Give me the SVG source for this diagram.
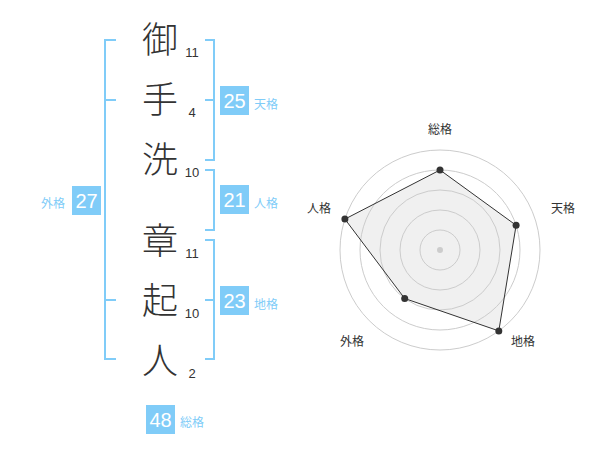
<svg xmlns="http://www.w3.org/2000/svg" width="600" height="470" viewBox="0 0 600 470">
<style>
.kanji{font-family:"Noto Sans CJK JP","Noto Sans CJK SC",sans-serif;font-size:36px;font-weight:300;fill:#333;text-anchor:middle}
.num{font-family:"Liberation Sans",Arial,sans-serif;font-size:13px;fill:#333;text-anchor:middle}
.br{fill:none;stroke:#80ccf8;stroke-width:2}
.box{fill:#80ccf8}
.bt{font-family:"Liberation Sans",Arial,sans-serif;font-size:20px;fill:#fff;text-anchor:middle}
.lab{font-family:"Noto Sans CJK JP","Noto Sans CJK SC",sans-serif;font-size:12px;fill:#80ccf8;text-anchor:middle}
.ring{fill:none;stroke:#ccc;stroke-width:1}
.rl{font-family:"Noto Sans CJK JP","Noto Sans CJK SC",sans-serif;font-size:12px;fill:#333;text-anchor:middle}
.pt{fill:#333}
</style>
<rect width="600" height="470" fill="#fff"/>
<g id="name">
<g id="c1"><text class="kanji" x="160" y="53">御</text><text class="num" x="192" y="57">11</text></g>
<g id="c2"><text class="kanji" x="160" y="113">手</text><text class="num" x="192" y="117">4</text></g>
<g id="c3"><text class="kanji" x="160" y="173">洗</text><text class="num" x="192" y="177">10</text></g>
<g id="c4"><text class="kanji" x="160" y="254">章</text><text class="num" x="192" y="258">11</text></g>
<g id="c5"><text class="kanji" x="160" y="314">起</text><text class="num" x="192" y="318">10</text></g>
<g id="c6"><text class="kanji" x="160" y="374">人</text><text class="num" x="192" y="378">2</text></g>
</g>
<g id="connectors">
<path class="br" d="M116,40 H105 V359 H116 M105,100 H116 M105,300 H116"/>
<path class="br" d="M205,40 H214 V160 H205 M214,100 H205"/>
<path class="br" d="M205,170 H214 V230 H205"/>
<path class="br" d="M205,240 H214 V359 H205 M214,300 H205"/>
</g>
<g id="tenkaku"><rect class="box" x="220" y="86" width="29" height="29"/><text class="bt" x="234.5" y="107.5">25</text><text class="lab" x="266" y="108.5">天格</text></g>
<g id="jinkaku"><rect class="box" x="220" y="185" width="29" height="29"/><text class="bt" x="234.5" y="206.5">21</text><text class="lab" x="266" y="207.5">人格</text></g>
<g id="chikaku"><rect class="box" x="220" y="286" width="29" height="29"/><text class="bt" x="234.5" y="307.5">23</text><text class="lab" x="266" y="308.5">地格</text></g>
<g id="gaikaku"><rect class="box" x="72" y="186" width="29" height="29"/><text class="bt" x="86.5" y="207.5">27</text><text class="lab" x="53" y="207.5">外格</text></g>
<g id="soukaku"><rect class="box" x="146" y="405" width="29" height="29"/><text class="bt" x="160.5" y="426.5">48</text><text class="lab" x="192" y="427">総格</text></g>
<g id="radar">
<polygon points="440,170 516.1,225.3 498.8,330.9 404.7,298.5 344.9,219.1" fill="#f0f0f0" stroke="none"/>
<circle class="ring" cx="440" cy="250" r="20"/>
<circle class="ring" cx="440" cy="250" r="40"/>
<circle class="ring" cx="440" cy="250" r="60"/>
<circle class="ring" cx="440" cy="250" r="80"/>
<circle class="ring" cx="440" cy="250" r="100"/>
<circle cx="440" cy="250" r="3" fill="#ccc"/>
<polygon points="440,170 516.1,225.3 498.8,330.9 404.7,298.5 344.9,219.1" fill="none" stroke="#333" stroke-width="1"/>
<circle class="pt" cx="440" cy="170" r="3.5"/>
<circle class="pt" cx="516.1" cy="225.3" r="3.5"/>
<circle class="pt" cx="498.8" cy="330.9" r="3.5"/>
<circle class="pt" cx="404.7" cy="298.5" r="3.5"/>
<circle class="pt" cx="344.9" cy="219.1" r="3.5"/>
<text class="rl" x="440" y="134">総格</text>
<text class="rl" x="563" y="213">天格</text>
<text class="rl" x="523" y="346">地格</text>
<text class="rl" x="352" y="346">外格</text>
<text class="rl" x="319" y="213">人格</text>
</g>
</svg>
